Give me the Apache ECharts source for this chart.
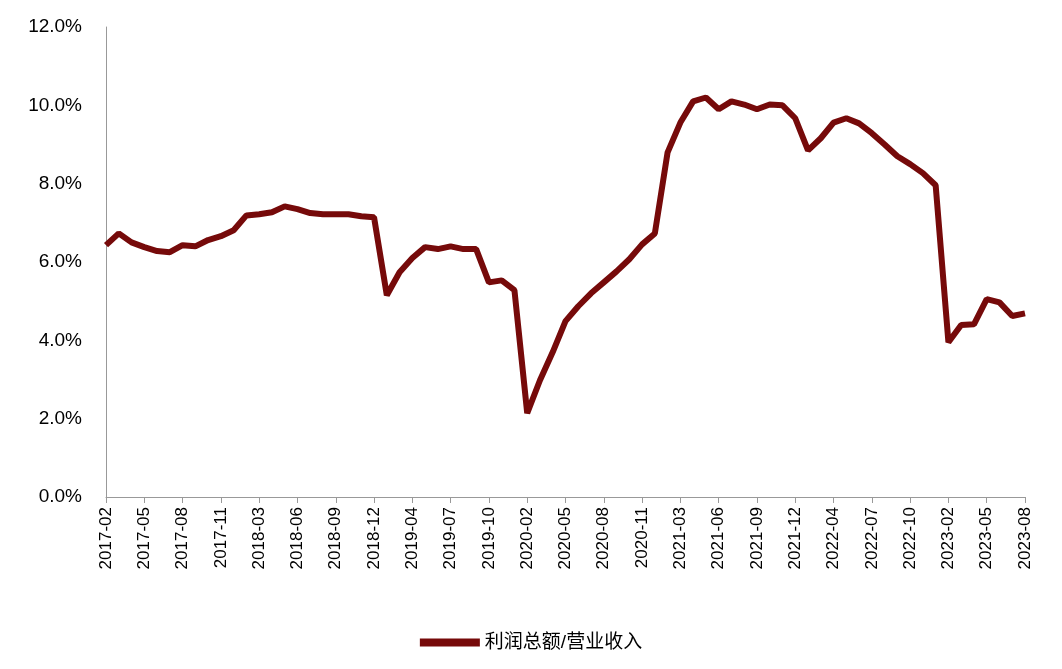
<!DOCTYPE html>
<html>
<head>
<meta charset="utf-8">
<script src="https://cdn.jsdelivr.net/npm/echarts@6/dist/echarts.min.js"></script>
<style>html,body{margin:0;padding:0;background:#fff}#main{width:1062px;height:669px}</style>
</head>
<body>
<div id="main"></div>
<script>
// months (January merged into February, as in the source data)
var categories = [];
for (var y = 2017; y <= 2023; y++) {
    for (var m = 2; m <= 12; m++) {
        if (y === 2023 && m > 8) break;
        categories.push(y + '-' + (m < 10 ? '0' + m : m));
    }
}

var profitRatio = [
    6.43, 6.73, 6.50, 6.38, 6.28, 6.25, 6.43, 6.40, 6.56, 6.66, 6.81,
    7.19, 7.22, 7.27, 7.42, 7.35, 7.25, 7.22, 7.22, 7.22, 7.17, 7.14,
    5.15, 5.74, 6.10, 6.38, 6.33, 6.40, 6.33, 6.33, 5.48, 5.53, 5.28,
    2.14, 2.98, 3.70, 4.49, 4.87, 5.20, 5.48, 5.76, 6.07, 6.45, 6.73,
    8.80, 9.56, 10.10, 10.20, 9.90, 10.10, 10.02, 9.90, 10.02, 10.00, 9.67,
    8.85, 9.16, 9.56, 9.67, 9.54, 9.29, 9.00, 8.70, 8.50, 8.27, 7.96,
    3.95, 4.39, 4.41, 5.05, 4.97, 4.62, 4.69
];

var myChart = echarts.init(document.getElementById('main'));
var option = {
    animation: false,
    textStyle: { fontFamily: 'Liberation Sans, Noto Sans CJK SC' },
    grid: { left: 106, right: 37, top: 27, bottom: 172 },
    legend: {
        bottom: 12,
        left: 'center',
        itemWidth: 60,
        itemHeight: 8,
        textStyle: { fontSize: 19, color: '#000' },
        data: [{ name: '利润总额/营业收入', icon: 'rect' }]
    },
    xAxis: {
        type: 'category',
        boundaryGap: false,
        data: categories,
        axisLine: { lineStyle: { color: '#999' } },
        axisTick: { interval: 2, length: 6, lineStyle: { color: '#999' } },
        axisLabel: { interval: 2, rotate: 90, fontSize: 17, color: '#000', margin: 10 }
    },
    yAxis: {
        type: 'value',
        min: 0,
        max: 12,
        interval: 2,
        splitLine: { show: false },
        axisLine: { show: true, lineStyle: { color: '#999' } },
        axisTick: { show: false },
        axisLabel: {
            fontSize: 19, color: '#000', margin: 24,
            formatter: function (v) { return v.toFixed(1) + '%'; }
        }
    },
    series: [{
        name: '利润总额/营业收入',
        type: 'line',
        data: profitRatio,
        symbol: 'none',
        itemStyle: { color: '#760a0a' },
        lineStyle: { width: 6, color: '#760a0a' }
    }]
};
myChart.setOption(option);
</script>
</body>
</html>
